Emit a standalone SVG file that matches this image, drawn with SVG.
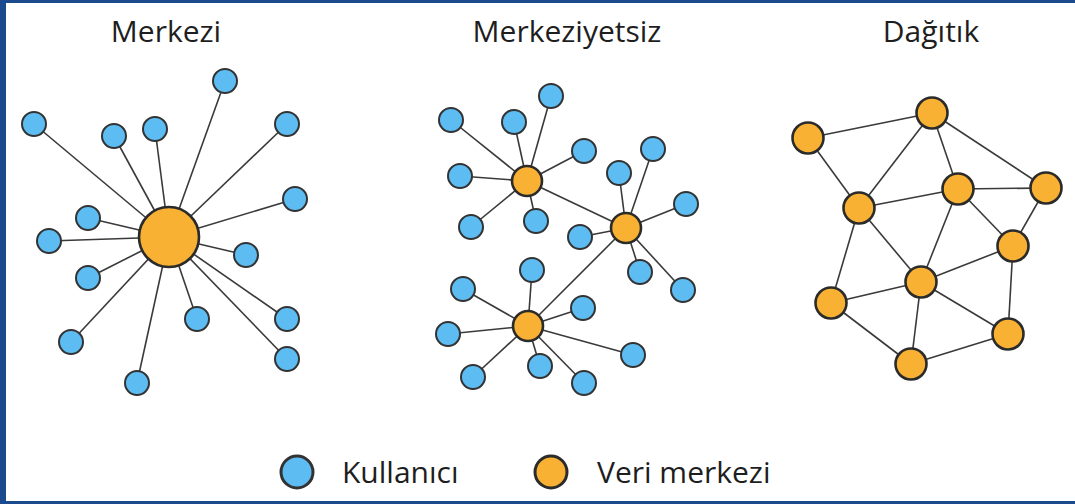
<svg xmlns="http://www.w3.org/2000/svg" width="1075" height="504" viewBox="0 0 1075 504">
<style>
.bg{fill:#ffffff}
.frame{fill:#1b4a8f}
.e{stroke:#3a3a3a;stroke-width:1.6;fill:none}
.u{fill:#5dbdf3;stroke:#333;stroke-width:2}
.d{fill:#f8b133;stroke:#2b2b2b;stroke-width:2.6}
.t{font-family:"Open Sans","Liberation Sans",sans-serif;font-size:30px;fill:#1e1e1e;text-anchor:middle}
.lt{font-family:"Open Sans","Liberation Sans",sans-serif;font-size:30px;fill:#1e1e1e}
</style>
<rect class="bg" x="0" y="0" width="1075" height="504"/>
<rect class="frame" x="0" y="0" width="1075" height="3"/>
<rect class="frame" x="0" y="0" width="6" height="504"/>
<rect class="frame" x="0" y="501" width="1075" height="3"/>

<text class="t" x="166" y="42">Merkezi</text>
<text class="t" x="567" y="42">Merkeziyetsiz</text>
<text class="t" x="931" y="42">Dağıtık</text>

<g id="connectors">
<g>
<line class="e" x1="169" y1="237" x2="225" y2="81"/>
<line class="e" x1="169" y1="237" x2="34" y2="124"/>
<line class="e" x1="169" y1="237" x2="114" y2="136"/>
<line class="e" x1="169" y1="237" x2="155" y2="129"/>
<line class="e" x1="169" y1="237" x2="287" y2="124"/>
<line class="e" x1="169" y1="237" x2="295" y2="199"/>
<line class="e" x1="169" y1="237" x2="88" y2="218"/>
<line class="e" x1="169" y1="237" x2="49" y2="241"/>
<line class="e" x1="169" y1="237" x2="246" y2="255"/>
<line class="e" x1="169" y1="237" x2="88" y2="278"/>
<line class="e" x1="169" y1="237" x2="71" y2="342"/>
<line class="e" x1="169" y1="237" x2="137" y2="383"/>
<line class="e" x1="169" y1="237" x2="197" y2="319"/>
<line class="e" x1="169" y1="237" x2="287" y2="319"/>
<line class="e" x1="169" y1="237" x2="287" y2="359"/>
</g>
<g>
<line class="e" x1="527" y1="181" x2="626" y2="228"/>
<line class="e" x1="626" y1="228" x2="528" y2="326"/>
<line class="e" x1="527" y1="181" x2="451" y2="120"/>
<line class="e" x1="527" y1="181" x2="514" y2="122"/>
<line class="e" x1="527" y1="181" x2="551" y2="96"/>
<line class="e" x1="527" y1="181" x2="584" y2="151"/>
<line class="e" x1="527" y1="181" x2="460" y2="176"/>
<line class="e" x1="527" y1="181" x2="471" y2="227"/>
<line class="e" x1="527" y1="181" x2="536" y2="221"/>
<line class="e" x1="626" y1="228" x2="619" y2="173"/>
<line class="e" x1="626" y1="228" x2="653" y2="149"/>
<line class="e" x1="626" y1="228" x2="686" y2="204"/>
<line class="e" x1="626" y1="228" x2="580" y2="237"/>
<line class="e" x1="626" y1="228" x2="640" y2="272"/>
<line class="e" x1="626" y1="228" x2="683" y2="290"/>
<line class="e" x1="528" y1="326" x2="532" y2="270"/>
<line class="e" x1="528" y1="326" x2="463" y2="289"/>
<line class="e" x1="528" y1="326" x2="583" y2="308"/>
<line class="e" x1="528" y1="326" x2="448" y2="334"/>
<line class="e" x1="528" y1="326" x2="633" y2="355"/>
<line class="e" x1="528" y1="326" x2="540" y2="366"/>
<line class="e" x1="528" y1="326" x2="473" y2="377"/>
<line class="e" x1="528" y1="326" x2="584" y2="383"/>
</g>
<g>
<line class="e" x1="808" y1="138" x2="932" y2="113"/>
<line class="e" x1="808" y1="138" x2="859" y2="208"/>
<line class="e" x1="932" y1="113" x2="859" y2="208"/>
<line class="e" x1="932" y1="113" x2="958" y2="189"/>
<line class="e" x1="932" y1="113" x2="1046" y2="188"/>
<line class="e" x1="859" y1="208" x2="958" y2="189"/>
<line class="e" x1="958" y1="189" x2="1046" y2="188"/>
<line class="e" x1="958" y1="189" x2="1013" y2="246"/>
<line class="e" x1="1046" y1="188" x2="1013" y2="246"/>
<line class="e" x1="859" y1="208" x2="831" y2="303"/>
<line class="e" x1="859" y1="208" x2="921" y2="282"/>
<line class="e" x1="958" y1="189" x2="921" y2="282"/>
<line class="e" x1="1013" y1="246" x2="921" y2="282"/>
<line class="e" x1="831" y1="303" x2="921" y2="282"/>
<line class="e" x1="831" y1="303" x2="911" y2="364"/>
<line class="e" x1="921" y1="282" x2="911" y2="364"/>
<line class="e" x1="921" y1="282" x2="1008" y2="334"/>
<line class="e" x1="1013" y1="246" x2="1008" y2="334"/>
<line class="e" x1="911" y1="364" x2="1008" y2="334"/>
</g>
</g>

<g id="merkezi-nodes">
<g id="m-hub"><circle class="d" cx="169" cy="237" r="30"/></g>
<g id="m-u1"><circle class="u" cx="225" cy="81" r="12"/></g>
<g id="m-u2"><circle class="u" cx="34" cy="124" r="12"/></g>
<g id="m-u3"><circle class="u" cx="114" cy="136" r="12"/></g>
<g id="m-u4"><circle class="u" cx="155" cy="129" r="12"/></g>
<g id="m-u5"><circle class="u" cx="287" cy="124" r="12"/></g>
<g id="m-u6"><circle class="u" cx="295" cy="199" r="12"/></g>
<g id="m-u7"><circle class="u" cx="88" cy="218" r="12"/></g>
<g id="m-u8"><circle class="u" cx="49" cy="241" r="12"/></g>
<g id="m-u9"><circle class="u" cx="246" cy="255" r="12"/></g>
<g id="m-u10"><circle class="u" cx="88" cy="278" r="12"/></g>
<g id="m-u11"><circle class="u" cx="71" cy="342" r="12"/></g>
<g id="m-u12"><circle class="u" cx="137" cy="383" r="12"/></g>
<g id="m-u13"><circle class="u" cx="197" cy="319" r="12"/></g>
<g id="m-u14"><circle class="u" cx="287" cy="319" r="12"/></g>
<g id="m-u15"><circle class="u" cx="287" cy="359" r="12"/></g>
</g>

<g id="merkeziyetsiz-nodes">
<g id="k-hubA"><circle class="d" cx="527" cy="181" r="15"/></g>
<g id="k-hubB"><circle class="d" cx="626" cy="228" r="15"/></g>
<g id="k-hubC"><circle class="d" cx="528" cy="326" r="15"/></g>
<g id="k-u1"><circle class="u" cx="451" cy="120" r="12"/></g>
<g id="k-u2"><circle class="u" cx="514" cy="122" r="12"/></g>
<g id="k-u3"><circle class="u" cx="551" cy="96" r="12"/></g>
<g id="k-u4"><circle class="u" cx="584" cy="151" r="12"/></g>
<g id="k-u5"><circle class="u" cx="460" cy="176" r="12"/></g>
<g id="k-u6"><circle class="u" cx="471" cy="227" r="12"/></g>
<g id="k-u7"><circle class="u" cx="536" cy="221" r="12"/></g>
<g id="k-u8"><circle class="u" cx="619" cy="173" r="12"/></g>
<g id="k-u9"><circle class="u" cx="653" cy="149" r="12"/></g>
<g id="k-u10"><circle class="u" cx="686" cy="204" r="12"/></g>
<g id="k-u11"><circle class="u" cx="580" cy="237" r="12"/></g>
<g id="k-u12"><circle class="u" cx="640" cy="272" r="12"/></g>
<g id="k-u13"><circle class="u" cx="683" cy="290" r="12"/></g>
<g id="k-u14"><circle class="u" cx="532" cy="270" r="12"/></g>
<g id="k-u15"><circle class="u" cx="463" cy="289" r="12"/></g>
<g id="k-u16"><circle class="u" cx="583" cy="308" r="12"/></g>
<g id="k-u17"><circle class="u" cx="448" cy="334" r="12"/></g>
<g id="k-u18"><circle class="u" cx="633" cy="355" r="12"/></g>
<g id="k-u19"><circle class="u" cx="540" cy="366" r="12"/></g>
<g id="k-u20"><circle class="u" cx="473" cy="377" r="12"/></g>
<g id="k-u21"><circle class="u" cx="584" cy="383" r="12"/></g>
</g>

<g id="dagitik-nodes">
<g id="d-1"><circle class="d" cx="808" cy="138" r="15.5"/></g>
<g id="d-2"><circle class="d" cx="932" cy="113" r="15.5"/></g>
<g id="d-3"><circle class="d" cx="859" cy="208" r="15.5"/></g>
<g id="d-4"><circle class="d" cx="958" cy="189" r="15.5"/></g>
<g id="d-5"><circle class="d" cx="1046" cy="188" r="15.5"/></g>
<g id="d-6"><circle class="d" cx="1013" cy="246" r="15.5"/></g>
<g id="d-7"><circle class="d" cx="921" cy="282" r="15.5"/></g>
<g id="d-8"><circle class="d" cx="831" cy="303" r="15.5"/></g>
<g id="d-9"><circle class="d" cx="1008" cy="334" r="15.5"/></g>
<g id="d-10"><circle class="d" cx="911" cy="364" r="15.5"/></g>
</g>

<g id="legend">
<g id="legend-user">
<circle class="u" cx="297" cy="472" r="16" style="stroke-width:3"/>
<text class="lt" x="342" y="483">Kullanıcı</text>
</g>
<g id="legend-dc">
<circle class="d" cx="551" cy="472" r="16" style="stroke-width:3"/>
<text class="lt" x="597" y="483">Veri merkezi</text>
</g>
</g>
</svg>
